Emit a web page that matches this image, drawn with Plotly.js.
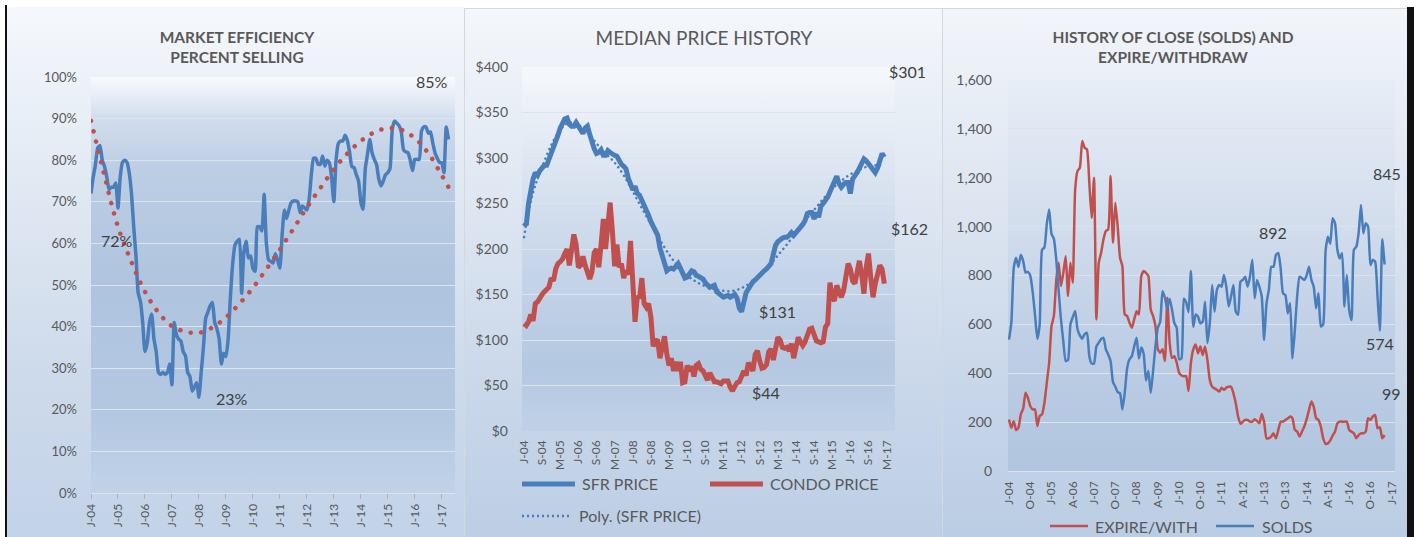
<!DOCTYPE html>
<html>
<head>
<meta charset="utf-8">
<script src="https://cdn.plot.ly/plotly-3.0.1.min.js"></script>
<style>
html,body{margin:0;padding:0;background:#ffffff;width:1414px;height:537px;overflow:hidden}
.abs{position:absolute}
#barL{left:5px;top:5px;width:2px;height:532px;background:#111}
#barR{left:1407px;top:7px;width:7px;height:530px;background:#111}
#p1{left:7px;top:7px;width:457px;height:530px;background:linear-gradient(180deg,#f5f8fc 0%,#e0e8f2 35%,#cddaeb 70%,#c3d3e8 100%)}
#p2{left:464px;top:8px;width:479px;height:529px;box-sizing:border-box;border:1px solid #d3d8df;border-bottom:none;background:linear-gradient(180deg,#f4f7fb 0%,#dfe7f2 35%,#cad8ea 70%,#bdcee5 100%)}
#p3{left:943px;top:8px;width:464px;height:529px;box-sizing:border-box;border-top:1px solid #d3d8df;background:linear-gradient(180deg,#f2f5fa 0%,#dbe4f0 40%,#c6d5e9 75%,#bbcde4 100%)}
#pa1{background:linear-gradient(180deg,#f9fbfd 0%,#d1dded 10%,#bdcee4 22%,#afc4df 50%,#b3c7e1 80%,#c1d2e8 100%)}
#pa2{background:linear-gradient(180deg,#f6f8fb 0%,#dce5f1 28%,#c6d5e9 55%,#b4c8e1 82%,#c0d1e7 100%)}
#pa3{background:linear-gradient(180deg,#e7edf6 0%,#d3deed 35%,#bfcfe6 65%,#b0c5df 100%)}
.tracetrend1 .js-line{stroke-linecap:round!important;stroke-dasharray:0.1px 10.5px!important}
.tracetrend2 .js-line{stroke-linecap:round!important;stroke-dasharray:0.1px 5px!important}
</style>
</head>
<body>
<div id="barL" class="abs"></div>
<div id="p1" class="abs"><div id="pa1" class="abs"></div><div id="c1" class="abs" style="left:0;top:0"></div></div>
<div id="p2" class="abs"><div id="pa2" class="abs"></div><div id="c2" class="abs" style="left:0;top:0"></div></div>
<div id="p3" class="abs"><div id="pa3" class="abs"></div><div id="c3" class="abs" style="left:0;top:0"></div></div>
<div id="barR" class="abs"></div>
<script>
// ---------- DATA ----------
const p1TickText = ['J-04','J-05','J-06','J-07','J-08','J-09','J-10','J-11','J-12','J-13','J-14','J-15','J-16','J-17'];
const p2TickText = ['J-04','S-04','M-05','J-06','S-06','M-07','J-08','S-08','M-09','J-10','S-10','M-11','J-12','S-12','M-13','J-14','S-14','M-15','J-16','S-16','M-17'];
const p3TickText = ['J-04','O-04','J-05','A-06','J-07','O-07','J-08','A-09','J-10','O-10','J-11','A-12','J-13','O-13','J-14','A-15','J-16','O-16','J-17'];

// Percent selling (monthly)
const efficiency = [72,76,79,83,83.5,80,78.5,76,73,73.5,
73.5,74.5,68.5,76,79.5,80,79.5,77,72,64,
57,48,46,41,34,36,41,43,37,34,
29,28.5,29,28.5,29,31,26,41,38,37,
36.5,34,33,29,28,24.5,25.5,26.5,23,29,
35,42,43.5,45,45.8,41,39.5,37,31,33.6,
32.8,37,47,55,59.5,60.5,61,48,58,60.5,
56.5,57,54,53.3,64,64,63,71.8,60,56,
55.7,55.3,57.5,56,54,62,68,66,68,69.8,
70.2,70.2,70,67.4,69,68.5,68,70.5,76.5,80.5,
80.5,79,79,81,78.6,80,79.4,76,70,80,
84,84.6,84.6,86,84.8,82,78.5,78.2,76.5,75,
70,68.2,78,81.5,85,81.8,80.2,79,75.5,73.8,
75,76.5,77,78,87.4,89.4,88.9,88.3,86.8,82.5,
82,81.8,80,77.5,80.2,80.2,80.2,87,88,88,
86.5,86.8,84.2,81.8,80.5,79.5,79.4,77,88,85];
// Polynomial trend of percent selling (read at sample months)
const effTrendMonth = [0,6,12,18,24,30,36,42,48,54,60,66,72,78,84,90,96,102,108,114,120,126,132,138,144,150,156,159];
const effTrendValue = [89.5,76.2,64,55.5,48.4,43.4,40.1,38.8,38.5,39.8,42.2,45.5,49.3,53.8,58.5,63.5,68.6,73.3,77.8,81.6,84.6,86.7,87.7,87.3,85.3,81.7,76.4,73.5];
const effLabels = ['85%','72%','23%'];

// Median prices ($K, monthly)
const sfrPrice = [229,226,250,268,277,284,281,286,290,292,
292,298,305,311,319,325,333,337,343,344,
337,335,335,339,334,330,327,333,335,326,
317,310,305,306,309,303,303,308,306,304,
303,302,297,293,291,288,278,271,265,269,
261,259,254,249,243,237,230,225,220,215,
201,193,186,176,178,179,178,182,184,179,
173,168,169,172,176,175,171,170,169,167,
163,161,158,159,160,153,150,149,147,148,
149,147,149,150,146,135,131,145,152,156,
161,164,166,169,170,173,176,178,181,184,
194,204,208,211,212,213,213,215,218,215,
218,220,222,227,231,239,240,240,233,240,
235,247,250,253,257,263,268,276,280,272,
268,271,273,273,261,277,280,284,289,296,
299,297,294,291,287,284,289,298,305,301];
const condoPrice = [118,116,120,128,121,140,142,147,150,153,
155,158,168,165,178,184,186,189,195,200,
182,200,216,205,180,182,192,182,176,167,
175,196,200,180,204,233,200,224,251,220,
181,205,180,184,168,176,172,209,165,120,
148,146,168,140,136,140,125,93,100,99,
80,95,104,85,72,80,66,76,66,76,
53,54,72,66,71,60,72,74,68,66,
59,56,64,57,54,54,53,52,55,55,
55,48,44,49,53,54,62,66,61,75,
71,66,84,88,77,69,70,73,87,90,
78,94,103,100,92,91,92,88,96,80,
92,103,98,94,98,106,112,113,107,99,
98,97,98,114,118,163,147,143,160,154,
147,154,169,184,178,165,162,176,187,172,
151,180,195,169,147,162,172,182,178,162];
const sfrTrendMonth = [0,4,8,12,16,20,24,28,32,36,40,44,48,52,56,60,64,68,72,76,80,84,88,92,96,100,104,108,112,116,120,124,128,132,136,140,144,148,152,156,159];
const sfrTrendValue = [213,262,290,314,331,339,336,328,316,305,295,281,263,245,227,210,194,181,171,164,159,156,154,154,157,163,171,181,193,205,218,231,243,255,266,275,282,287,291,292,292];
const priceLabels = ['$301','$162','$131','$44'];

// Closed sales and expired/withdrawn listings (monthly)
const expireWith = [211,177,204,168,177,232,255,320,300,266,
252,252,184,225,232,279,361,443,593,634,
780,852,757,811,879,716,852,770,1150,1227,
1241,1350,1323,1316,1180,1036,1200,620,852,893,
948,982,989,1207,934,1098,1002,873,839,641,
634,607,586,620,654,641,798,818,811,798,
661,634,593,498,484,498,450,709,525,463,
470,443,402,391,388,388,327,443,498,518,
482,509,475,509,454,373,345,338,332,325,
341,332,341,345,345,318,277,222,193,202,
209,209,202,202,212,205,195,233,200,134,
134,141,154,134,168,202,202,209,215,223,
216,168,161,141,161,182,212,250,284,263,
216,209,182,134,111,113,125,145,161,195,
202,202,202,202,168,161,154,134,147,154,
154,161,216,209,223,229,175,179,134,147];
const solds = [538,607,830,873,835,885,860,812,815,800,
735,640,541,600,905,915,1010,1070,970,950,
866,740,620,530,450,455,600,630,655,580,
555,541,560,565,470,440,440,510,525,540,
545,498,477,450,365,345,323,318,252,320,
420,457,470,510,545,460,505,480,370,409,
320,410,511,586,610,736,710,665,705,661,
605,586,457,460,705,690,650,818,590,640,
632,604,611,693,523,604,761,652,741,761,
754,802,754,673,714,761,652,639,775,782,
795,754,795,864,707,782,754,714,536,686,
741,836,836,885,892,830,727,720,645,686,
461,577,717,795,789,782,800,836,782,754,
666,727,591,600,900,959,930,1034,1014,905,
870,891,673,802,659,618,905,918,973,1089,
973,1014,1000,843,864,857,714,574,948,845];
const countLabels = ['892','845','574','99'];

// ---------- STYLE ----------
const FONT = 'Lato, "Noto Sans", sans-serif';
const BLUE = '#4a7ebb', RED = '#c0504d', TXT = '#595959', LBL = '#404040', GRID = '#dde3eb';
const months = efficiency.map((_, i) => i);

function placeArea(id, w, h, m) {
  const el = document.getElementById(id);
  el.style.left = m.l + 'px'; el.style.top = m.t + 'px';
  el.style.width = (w - m.l - m.r) + 'px'; el.style.height = (h - m.t - m.b) + 'px';
}
function label(text, x, y, size) {
  return {text, x, y, xref:'paper', yref:'paper', xanchor:'center', yanchor:'middle', showarrow:false,
          font:{family:FONT, size:size || 16, color:LBL}};
}
function legText(text, x, y) {
  return {text, x, y, xref:'paper', yref:'paper', xanchor:'left', yanchor:'middle', showarrow:false,
          font:{family:FONT, size:16, color:TXT}};
}
function legLine(x0, x1, y, color, width, dash) {
  return {type:'line', xref:'paper', yref:'paper', x0, x1, y0:y, y1:y, line:{color, width, dash: dash || 'solid'}};
}
const cfg = {staticPlot:true, displayModeBar:false};

// ---------- PANEL 1 ----------
const W1 = 457, H1 = 530, M1 = {l:84, r:9, t:70, b:44};
placeArea('pa1', W1, H1, M1);
Plotly.newPlot('c1', [
  {x:months, y:efficiency, mode:'lines', line:{color:BLUE, width:3.5, shape:'spline', smoothing:0.5}, hoverinfo:'skip'},
  {x:effTrendMonth, y:effTrendValue, mode:'lines', uid:'trend1', line:{color:RED, width:4.5, shape:'spline', smoothing:1, dash:'dot'}, hoverinfo:'skip'}
], {
  width:W1, height:H1, margin:M1, showlegend:false,
  paper_bgcolor:'rgba(0,0,0,0)', plot_bgcolor:'rgba(0,0,0,0)',
  font:{family:FONT, color:TXT},
  title:{text:'<b>MARKET EFFICIENCY</b><br><b>PERCENT SELLING</b>', font:{family:FONT, size:15.5, color:TXT},
         xref:'container', yref:'container', x:230/W1, y:1-36/H1, xanchor:'center', yanchor:'middle'},
  xaxis:{range:[0,161.9], tickvals:p1TickText.map((_, k) => k*12), ticktext:p1TickText, tickangle:-90,
         tickfont:{family:FONT, size:12, color:TXT}, ticks:'outside', ticklen:5, tickcolor:'#a8b2c0',
         showgrid:false, zeroline:false, showline:false},
  yaxis:{range:[0,100], dtick:10, ticksuffix:'%', tickfont:{family:FONT, size:13, color:TXT},
         gridcolor:GRID, gridwidth:1, zeroline:true, zerolinecolor:GRID, zerolinewidth:1, showline:false, ticklabelstandoff:13},
  annotations:[label(effLabels[0], 0.938, 0.990), label(effLabels[1], 0.0714, 0.608), label(effLabels[2], 0.3887, 0.226)]
}, cfg);

// ---------- PANEL 2 ----------
const W2 = 477, H2 = 528, M2 = {l:57, r:47, t:58, b:106};
placeArea('pa2', W2, H2, M2);
Plotly.newPlot('c2', [
  {x:months, y:sfrPrice, name:'SFR PRICE', mode:'lines', line:{color:BLUE, width:5}, hoverinfo:'skip'},
  {x:months, y:condoPrice, name:'CONDO PRICE', mode:'lines', line:{color:RED, width:5}, hoverinfo:'skip'},
  {x:sfrTrendMonth, y:sfrTrendValue, name:'Poly. (SFR PRICE)', mode:'lines', uid:'trend2', line:{color:BLUE, width:2.5, shape:'spline', smoothing:1, dash:'dot'}, hoverinfo:'skip'}
], {
  width:W2, height:H2, margin:M2, showlegend:false,
  paper_bgcolor:'rgba(0,0,0,0)', plot_bgcolor:'rgba(0,0,0,0)',
  font:{family:FONT, color:TXT},
  title:{text:'MEDIAN PRICE HISTORY', font:{family:FONT, size:19, color:TXT},
         xref:'container', yref:'container', x:239/W2, y:1-29/H2, xanchor:'center', yanchor:'middle'},
  xaxis:{range:[-0.88,163.7], tickvals:p2TickText.map((_, k) => k*8), ticktext:p2TickText, tickangle:-90,
         tickfont:{family:FONT, size:12, color:TXT}, ticks:'', showgrid:false, zeroline:false, showline:false, ticklabelstandoff:6},
  yaxis:{range:[0,400], dtick:50, tickprefix:'$', tickfont:{family:FONT, size:14, color:TXT},
         gridcolor:GRID, gridwidth:1, zeroline:false, showline:false, ticklabelstandoff:13},
  shapes:[
    legLine(0, 0.142, -0.1456, BLUE, 5),
    legLine(0.504, 0.646, -0.1456, RED, 5),
    legLine(0, 0.134, -0.2335, BLUE, 2.5, '2px,3px')
  ],
  annotations:[
    legText('SFR PRICE', 0.1555, -0.1456), legText('CONDO PRICE', 0.6595, -0.1456), legText('Poly. (SFR PRICE)', 0.1475, -0.2335),
    label(priceLabels[0], 1.0335, 0.989), label(priceLabels[1], 1.040, 0.555), label(priceLabels[2], 0.684, 0.327), label(priceLabels[3], 0.653, 0.107)
  ]
}, cfg);

// ---------- PANEL 3 ----------
const W3 = 464, H3 = 528, M3 = {l:65, r:12, t:71, b:66};
placeArea('pa3', W3, H3, M3);
Plotly.newPlot('c3', [
  {x:months, y:expireWith, name:'EXPIRE/WITH', mode:'lines', line:{color:RED, width:2.5, shape:'spline', smoothing:0.5}, hoverinfo:'skip'},
  {x:months, y:solds, name:'SOLDS', mode:'lines', line:{color:BLUE, width:2.5, shape:'spline', smoothing:0.5}, hoverinfo:'skip'}
], {
  width:W3, height:H3, margin:M3, showlegend:false,
  paper_bgcolor:'rgba(0,0,0,0)', plot_bgcolor:'rgba(0,0,0,0)',
  font:{family:FONT, color:TXT},
  title:{text:'<b>HISTORY OF CLOSE (SOLDS) AND</b><br><b>EXPIRE/WITHDRAW</b>', font:{family:FONT, size:15.5, color:TXT},
         xref:'container', yref:'container', x:230/W3, y:1-33.5/H3, xanchor:'center', yanchor:'middle'},
  xaxis:{range:[-0.42,163.4], tickvals:p3TickText.map((_, k) => k*9), ticktext:p3TickText, tickangle:-90,
         tickfont:{family:FONT, size:12, color:TXT}, ticks:'', showgrid:false, zeroline:false, showline:false, ticklabelstandoff:7},
  yaxis:{range:[0,1600], dtick:200, tickformat:',d', tickfont:{family:FONT, size:14, color:TXT},
         gridcolor:GRID, gridwidth:1, zeroline:true, zerolinecolor:GRID, zerolinewidth:1, showline:false, ticklabelstandoff:15},
  shapes:[
    legLine(0.1085, 0.2067, -0.1407, RED, 2.5),
    legLine(0.5375, 0.6357, -0.1407, BLUE, 2.5)
  ],
  annotations:[
    legText('EXPIRE/WITH', 0.2196, -0.1407), legText('SOLDS', 0.6512, -0.1407),
    label(countLabels[0], 0.685, 0.611), label(countLabels[1], 0.979, 0.762), label(countLabels[2], 0.9625, 0.325), label(countLabels[3], 0.9915, 0.197)
  ]
}, cfg);
</script>
</body>
</html>
